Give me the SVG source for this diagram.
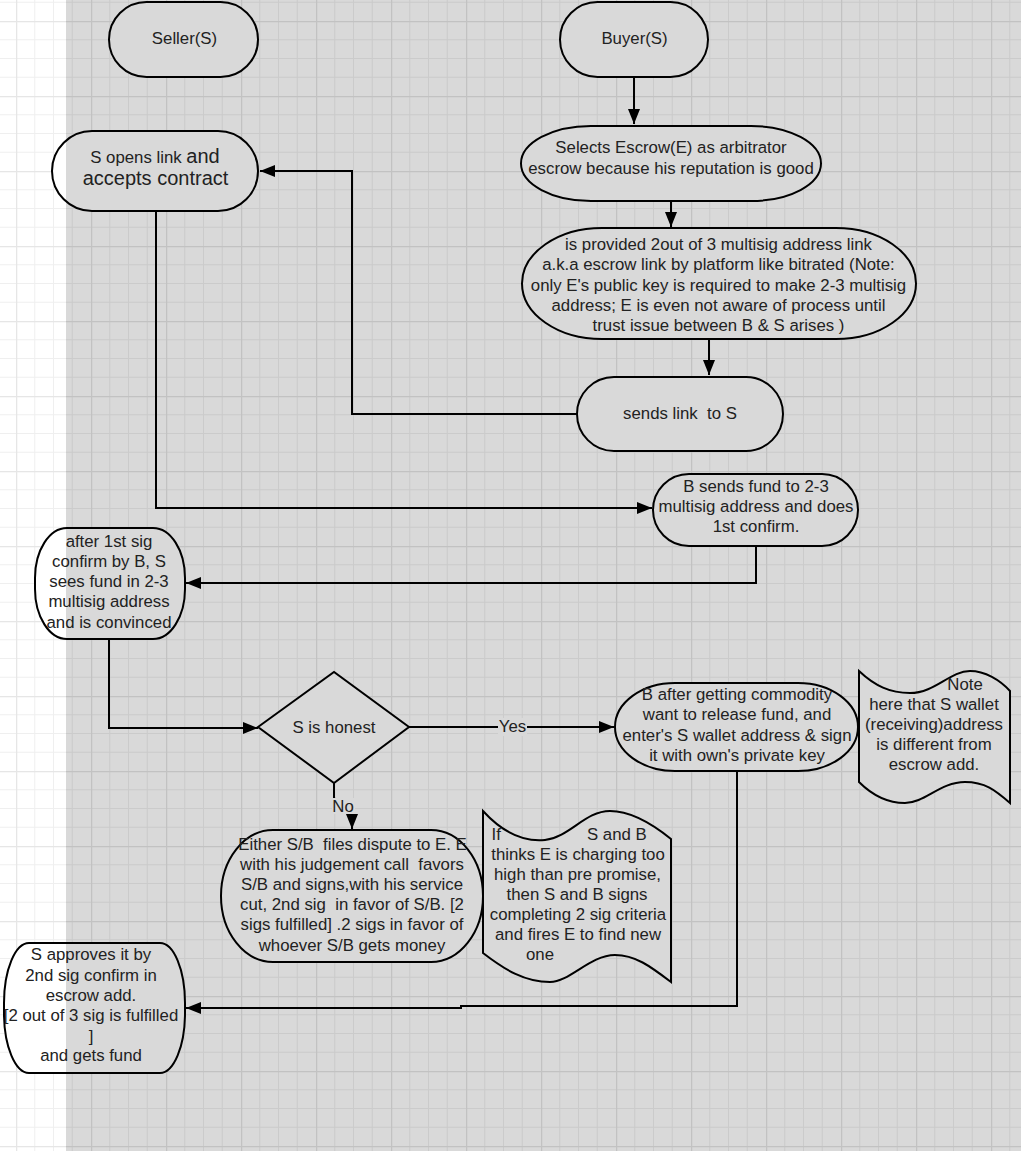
<svg xmlns="http://www.w3.org/2000/svg" width="1021" height="1151" viewBox="0 0 1021 1151">
<style>
.n{fill:url(#nf);stroke:#000;stroke-width:2}
.t{font-family:"Liberation Sans",Arial,sans-serif;font-size:16.8px;fill:#222;text-anchor:middle;white-space:pre}
.big{font-size:20px}
.c{fill:none;stroke:#000;stroke-width:2}
.a{marker-end:url(#ah)}
.lb{fill:#d9d9d9}
</style>
<defs>
<linearGradient id="nf" gradientUnits="userSpaceOnUse" x1="0" y1="0" x2="1021" y2="0">
<stop offset="0.0646" stop-color="#ffffff"/>
<stop offset="0.0646" stop-color="#d9d9d9"/>
</linearGradient>
<pattern id="gg" patternUnits="userSpaceOnUse" x="16" y="21" width="75" height="75">
<rect width="75" height="75" fill="#d9d9d9"/>
<path d="M18.75,0V75M37.5,0V75M56.25,0V75M0,18.75H75M0,37.5H75M0,56.25H75" stroke="#cbcbcb" stroke-width="1"/>
<path d="M0.5,0V75M0,0.5H75" stroke="#c2c2c2" stroke-width="1.5"/>
</pattern>
<pattern id="gw" patternUnits="userSpaceOnUse" x="16" y="21" width="75" height="75">
<rect width="75" height="75" fill="#ffffff"/>
<path d="M18.75,0V75M37.5,0V75M56.25,0V75M0,18.75H75M0,37.5H75M0,56.25H75" stroke="#efefef" stroke-width="1"/>
<path d="M0.5,0V75M0,0.5H75" stroke="#e6e6e6" stroke-width="1.5"/>
</pattern>
<marker id="ah" markerUnits="userSpaceOnUse" markerWidth="16" markerHeight="12" refX="15" refY="6" orient="auto">
<path d="M0,0L15,6L0,12z" fill="#000"/>
</marker>
</defs>

<rect x="0" y="0" width="1021" height="1151" fill="url(#gw)"/>
<rect x="66" y="0" width="955" height="1151" fill="url(#gg)"/>

<g id="connectors">
<path class="c a" d="M634,77V124"/>
<path class="c a" d="M671,201V227"/>
<path class="c a" d="M709,339V375"/>
<path class="c a" d="M577,414H352V171H260"/>
<path class="c a" d="M156,211V508H652"/>
<path class="c a" d="M756,546V583H186"/>
<path class="c a" d="M109,639V728H258"/>
<path class="c a" d="M409,727H614"/>
<rect class="lb" x="498" y="718" width="29" height="18"/>
<text class="t" x="512.5" y="732">Yes</text>
<path class="c a" d="M334,783V798L352,812V829"/>
<rect class="lb" x="332" y="798" width="23" height="16"/>
<text class="t" x="343" y="812">No</text>
<path class="c a" d="M737,771V1006H461V1008H186"/>
</g>

<g id="seller">
<rect class="n" x="109" y="2" width="149" height="75" rx="37.5" ry="37.5"/>
<text class="t" x="184.5" y="44">Seller(S)</text>
</g>
<g id="buyer">
<rect class="n" x="560" y="2" width="148" height="75" rx="37.5" ry="37.5"/>
<text class="t" x="634.5" y="44">Buyer(S)</text>
</g>
<g id="selects-escrow">
<rect class="n" x="521" y="126" width="300" height="75" rx="70" ry="37.5"/>
<text class="t" x="671" y="153">Selects Escrow(E) as arbitrator</text>
<text class="t" x="671" y="174">escrow because his reputation is good</text>
</g>
<g id="provided-link">
<rect class="n" x="522" y="228" width="394" height="111" rx="80" ry="55.5"/>
<text class="t" x="718.5" y="250">is provided 2out of 3 multisig address link</text>
<text class="t" x="718.5" y="270">a.k.a escrow link by platform like bitrated (Note:</text>
<text class="t" x="718.5" y="290.5">only E's public key is required to make 2-3 multisig</text>
<text class="t" x="718.5" y="310.5">address; E is even not aware of process until</text>
<text class="t" x="718.5" y="330.5">trust issue between B &amp; S arises )</text>
</g>
<g id="sends-link">
<rect class="n" x="577" y="377" width="206" height="74" rx="37" ry="37"/>
<text class="t" x="680" y="419">sends link  to S</text>
</g>
<g id="s-opens-link">
<rect class="n" x="52" y="131" width="206" height="80" rx="40" ry="40"/>
<text class="t" x="155" y="162.5">S opens link <tspan class="big">and</tspan></text>
<text class="t big" x="155.5" y="185">accepts contract</text>
</g>
<g id="b-sends-fund">
<rect class="n" x="653" y="474" width="205" height="72" rx="36" ry="36"/>
<text class="t" x="756" y="491.5">B sends fund to 2-3</text>
<text class="t" x="756" y="511.5">multisig address and does</text>
<text class="t" x="756" y="532">1st confirm.</text>
</g>
<g id="s-sees-fund">
<rect class="n" x="35" y="528" width="150" height="111" rx="32" ry="50"/>
<text class="t" x="109" y="546.5">after 1st sig</text>
<text class="t" x="109" y="566.5">confirm by B, S</text>
<text class="t" x="109" y="587">sees fund in 2-3</text>
<text class="t" x="109" y="607">multisig address</text>
<text class="t" x="109" y="627.5">and is convinced</text>
</g>
<g id="s-is-honest">
<path class="n" d="M258,727L334,672L409,727L334,783Z"/>
<text class="t" x="334" y="733">S is honest</text>
</g>
<g id="b-releases">
<rect class="n" x="615" y="683" width="243" height="88" rx="60" ry="44"/>
<text class="t" x="737" y="700">B after getting commodity</text>
<text class="t" x="737" y="720">want to release fund, and</text>
<text class="t" x="737" y="740.5">enter's S wallet address &amp; sign</text>
<text class="t" x="737" y="761">it with own's private key</text>
</g>
<g id="note">
<path class="n" d="M859,671C875,686 890,693 910,693C935,693 950,671 970,671C985,671 1000,680 1010,691L1010,803C995,790 985,782 965,782C940,782 925,803 905,803C885,803 870,793 859,782Z"/>
<text class="t" x="965" y="689.5">Note</text>
<text class="t" x="934" y="709.5">here that S wallet</text>
<text class="t" x="934" y="730">(receiving)address</text>
<text class="t" x="934" y="750">is different from</text>
<text class="t" x="934" y="770">escrow add.</text>
</g>
<g id="dispute">
<rect class="n" x="221" y="830" width="262" height="132" rx="52" ry="66"/>
<text class="t" x="352.5" y="849.5">Either S/B  files dispute to E. E</text>
<text class="t" x="352" y="869.5">with his judgement call  favors</text>
<text class="t" x="352" y="890">S/B and signs,with his service</text>
<text class="t" x="352" y="910">cut, 2nd sig  in favor of S/B. [2</text>
<text class="t" x="352" y="930">sigs fulfilled] .2 sigs in favor of</text>
<text class="t" x="352" y="950.5">whoever S/B gets money</text>
</g>
<g id="fire-escrow">
<path class="n" d="M483,811C505,835 525,842 545,840C570,837 585,811 610,811C630,811 650,822 671,839L671,982C650,966 635,955 615,955C590,955 570,982 550,982C525,982 505,970 483,953Z"/>
<text class="t" style="text-anchor:start" x="491.5" y="839.5">If<tspan x="587">S and B</tspan></text>
<text class="t" x="578" y="859.5">thinks E is charging too</text>
<text class="t" x="577.5" y="880">high than pre promise,</text>
<text class="t" x="577" y="900">then S and B signs</text>
<text class="t" x="578" y="920">completing 2 sig criteria</text>
<text class="t" x="578" y="940">and fires E to find new</text>
<text class="t" x="540" y="960">one</text>
</g>
<g id="s-approves">
<rect class="n" x="4" y="943" width="181" height="130" rx="25" ry="60"/>
<text class="t" x="91" y="960">S approves it by</text>
<text class="t" x="91" y="980.5">2nd sig confirm in</text>
<text class="t" x="91" y="1001">escrow add.</text>
<text class="t" x="91" y="1021">[2 out of 3 sig is fulfilled</text>
<text class="t" x="91" y="1041.5">]</text>
<text class="t" x="91" y="1061">and gets fund</text>
</g>
</svg>
